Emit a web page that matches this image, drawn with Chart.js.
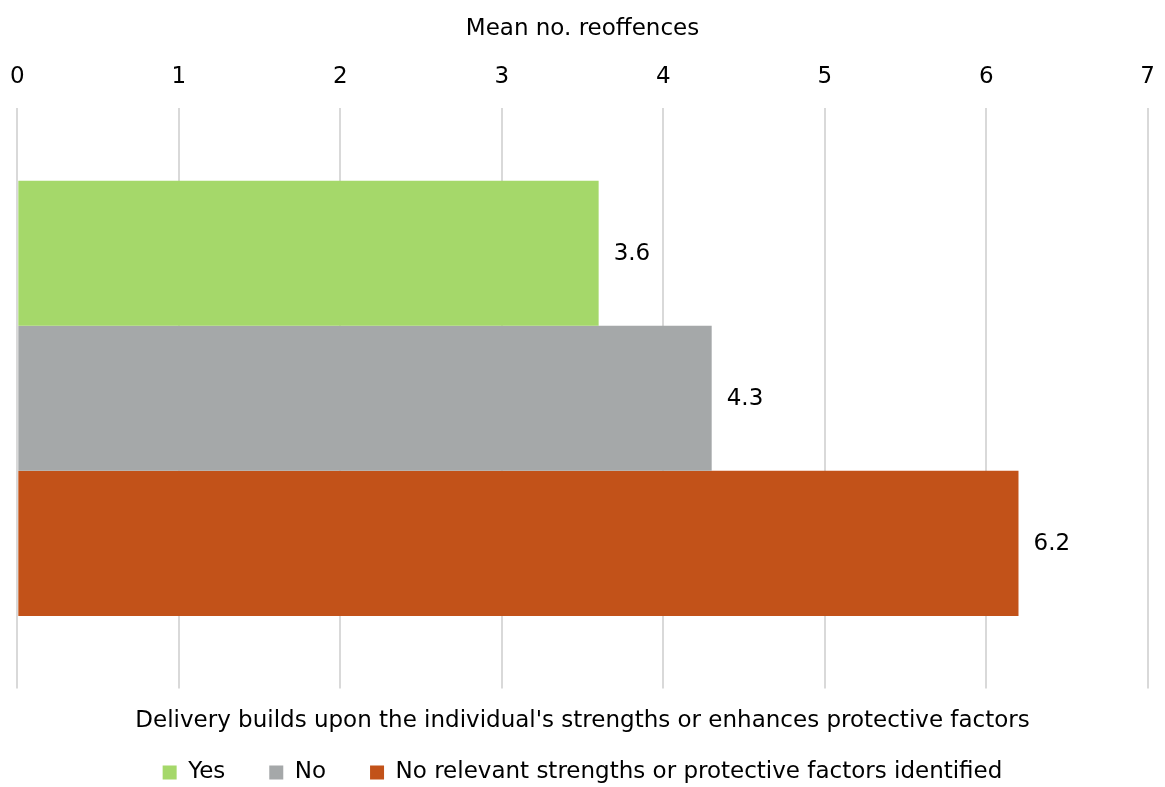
<!DOCTYPE html>
<html>
<head>
<meta charset="utf-8">
<script src="https://cdn.jsdelivr.net/npm/chart.js@4/dist/chart.umd.min.js"></script>
<style>
  html, body { margin: 0; padding: 0; background: #fff; }
  #wrap { width: 1165px; height: 787px; }
</style>
</head>
<body>
<div id="wrap"><canvas id="reoffChart" width="1165" height="787"></canvas></div>
<script>
const categories = ["Delivery builds upon the individual's strengths or enhances protective factors"];
const seriesNames = ["Yes", "No", "No relevant strengths or protective factors identified"];
const seriesValues = [[3.6], [4.3], [6.2]];
const seriesColors = ["#a5d86a", "#a5a8a9", "#c25219"];
const xTicks = [0, 1, 2, 3, 4, 5, 6, 7];

const FONT = "'DejaVu Sans', Verdana, sans-serif";
const FS = 23;

// writes each bar's value just past its end
const valueLabels = {
  id: "valueLabels",
  afterDatasetsDraw(chart) {
    const ctx = chart.ctx;
    ctx.save();
    ctx.font = FS + "px " + FONT;
    ctx.fillStyle = "#000";
    ctx.textAlign = "left";
    ctx.textBaseline = "middle";
    chart.data.datasets.forEach((ds, i) => {
      const meta = chart.getDatasetMeta(i);
      meta.data.forEach((bar, j) => {
        ctx.fillText(ds.data[j].toFixed(1), bar.x + 15, bar.y + 1);
      });
    });
    ctx.restore();
  }
};

new Chart(document.getElementById("reoffChart"), {
  type: "bar",
  data: {
    labels: categories,
    datasets: seriesNames.map((name, i) => ({
      label: name,
      data: seriesValues[i],
      backgroundColor: seriesColors[i],
      borderWidth: 0,
      categoryPercentage: 0.75,
      barPercentage: 1.0
    }))
  },
  options: {
    indexAxis: "y",
    responsive: false,
    animation: false,
    layout: { padding: { left: 0, right: 0, top: 15, bottom: -7 } },
    plugins: {
      tooltip: { enabled: false },
      legend: {
        position: "bottom",
        title: {
          display: true,
          text: categories[0],
          color: "#000",
          font: { family: FONT, size: FS },
          padding: { top: 21, bottom: -20 }
        },
        labels: {
          color: "#000",
          font: { family: FONT, size: FS },
          boxWidth: 14,
          boxHeight: 14,
          padding: 44
        }
      }
    },
    scales: {
      x: {
        position: "top",
        min: 0,
        max: 7,
        afterBuildTicks: axis => { axis.ticks = xTicks.map(v => ({ value: v })); },
        title: {
          display: true,
          text: "Mean no. reoffences",
          color: "#000",
          font: { family: FONT, size: FS },
          padding: { top: 0, bottom: 11 }
        },
        ticks: {
          color: "#000",
          font: { family: FONT, size: FS },
          padding: 10
        },
        grid: { color: "#d9d9d9", lineWidth: 2, drawTicks: true, tickLength: 7, tickColor: "rgba(0,0,0,0)" },
        border: { display: false }
      },
      y: {
        display: false
      }
    }
  },
  plugins: [valueLabels]
});
</script>
</body>
</html>
